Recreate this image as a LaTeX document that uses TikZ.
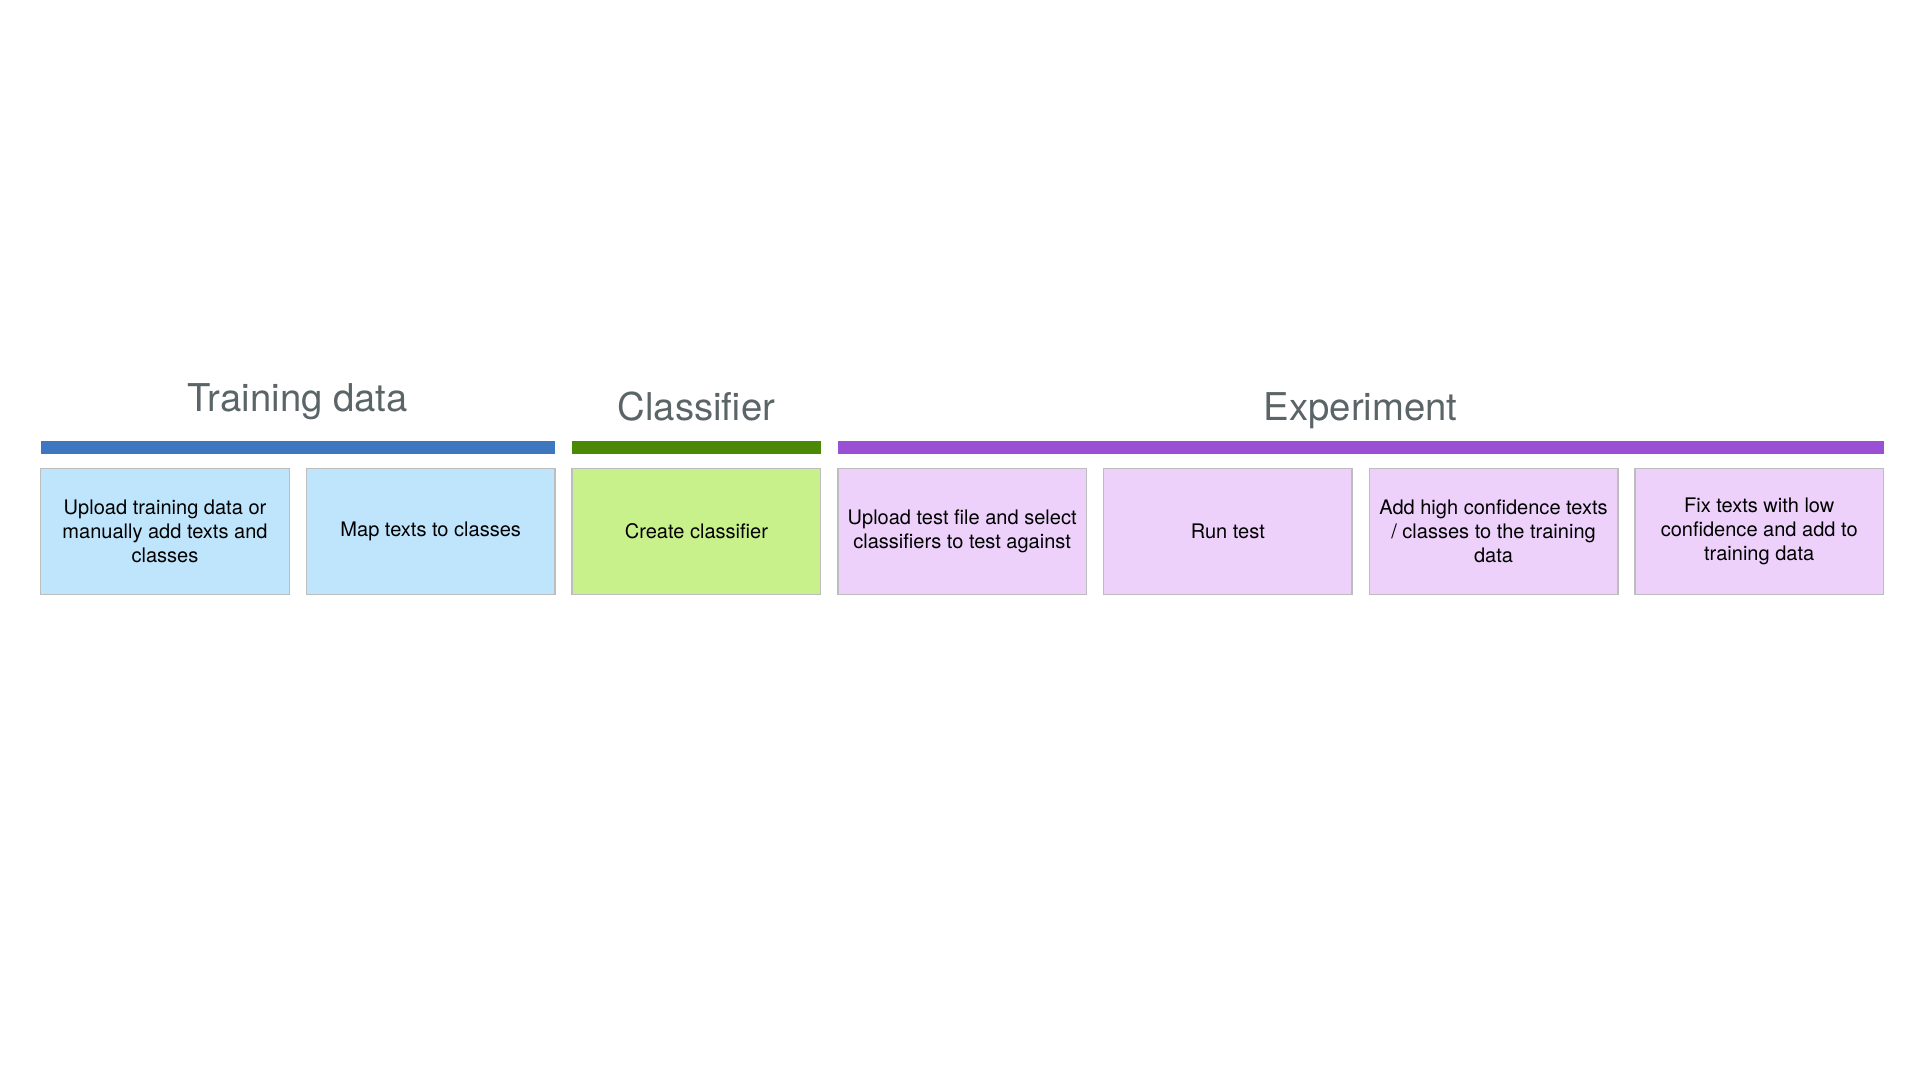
\documentclass[tikz,border=0pt]{standalone}
\usepackage{fontspec}
\setmainfont{TeX Gyre Heros}
\usepackage{tikz}
\usetikzlibrary{positioning, calc}

\definecolor{titlegray}{HTML}{5B6567}
\definecolor{bluebar}{HTML}{3E76C0}
\definecolor{greenbar}{HTML}{4B8905}
\definecolor{purplebar}{HTML}{9A50D5}
\definecolor{bluefill}{HTML}{BFE5FC}
\definecolor{greenfill}{HTML}{C8F18B}
\definecolor{purplefill}{HTML}{EDD1FB}
\definecolor{boxedge}{HTML}{BDBDBD}

\begin{document}
\begin{tikzpicture}[
  card/.style={draw=boxedge, line width=0.4pt, minimum width=2.486cm, minimum height=1.256cm,
    align=center, inner sep=0pt, outer sep=0pt,
    font=\fontsize{5.7}{6.83}\selectfont},
  heading/.style={anchor=base, text=titlegray, font=\fontsize{10.9}{13}\selectfont},
  node distance=0.171cm
]
  \useasboundingbox (0,0) rectangle (19.2,10.8);

  % Thẻ dữ liệu huấn luyện
  \node[card, fill=bluefill] (upload) at (1.65,5.485) {Upload training data or\\manually add texts and\\classes};
  \node[card, fill=bluefill, right=of upload] (map) {Map texts to classes};

  % Thẻ bộ phân loại
  \node[card, fill=greenfill, right=of map] (create) {Create classifier};

  % Thẻ thí nghiệm
  \node[card, fill=purplefill, right=of create] (testfile) {Upload test file and select\\classifiers to test against};
  \node[card, fill=purplefill, right=of testfile] (runtest) {Run test};
  \node[card, fill=purplefill, right=of runtest] (addhigh) {Add high confidence texts\\/ classes to the training\\data};
  \node[card, fill=purplefill, right=of addhigh] (fixlow) {Fix texts with low\\confidence and add to\\training data};

  % Các thanh màu
  \fill[bluebar] ([yshift=0.147cm]upload.north west) rectangle ([yshift=0.28cm]map.north east);
  \fill[greenbar] ([yshift=0.147cm]create.north west) rectangle ([yshift=0.28cm]create.north east);
  \fill[purplebar] ([yshift=0.147cm]testfile.north west) rectangle ([yshift=0.28cm]fixlow.north east);

  % Tiêu đề
  \coordinate (tdmid) at ($(upload.north west)!0.5!(map.north east)$);
  \node[heading] (tdtitle) at ([yshift=0.57cm]tdmid) {Training data};
  \node[heading] (cltitle) at ([yshift=0.48cm]create.north) {Classifier};
  \coordinate (exmid) at ($(testfile.north west)!0.5!(fixlow.north east)$);
  \node[heading] (extitle) at ([yshift=0.48cm]exmid) {Experiment};
\end{tikzpicture}
\end{document}
